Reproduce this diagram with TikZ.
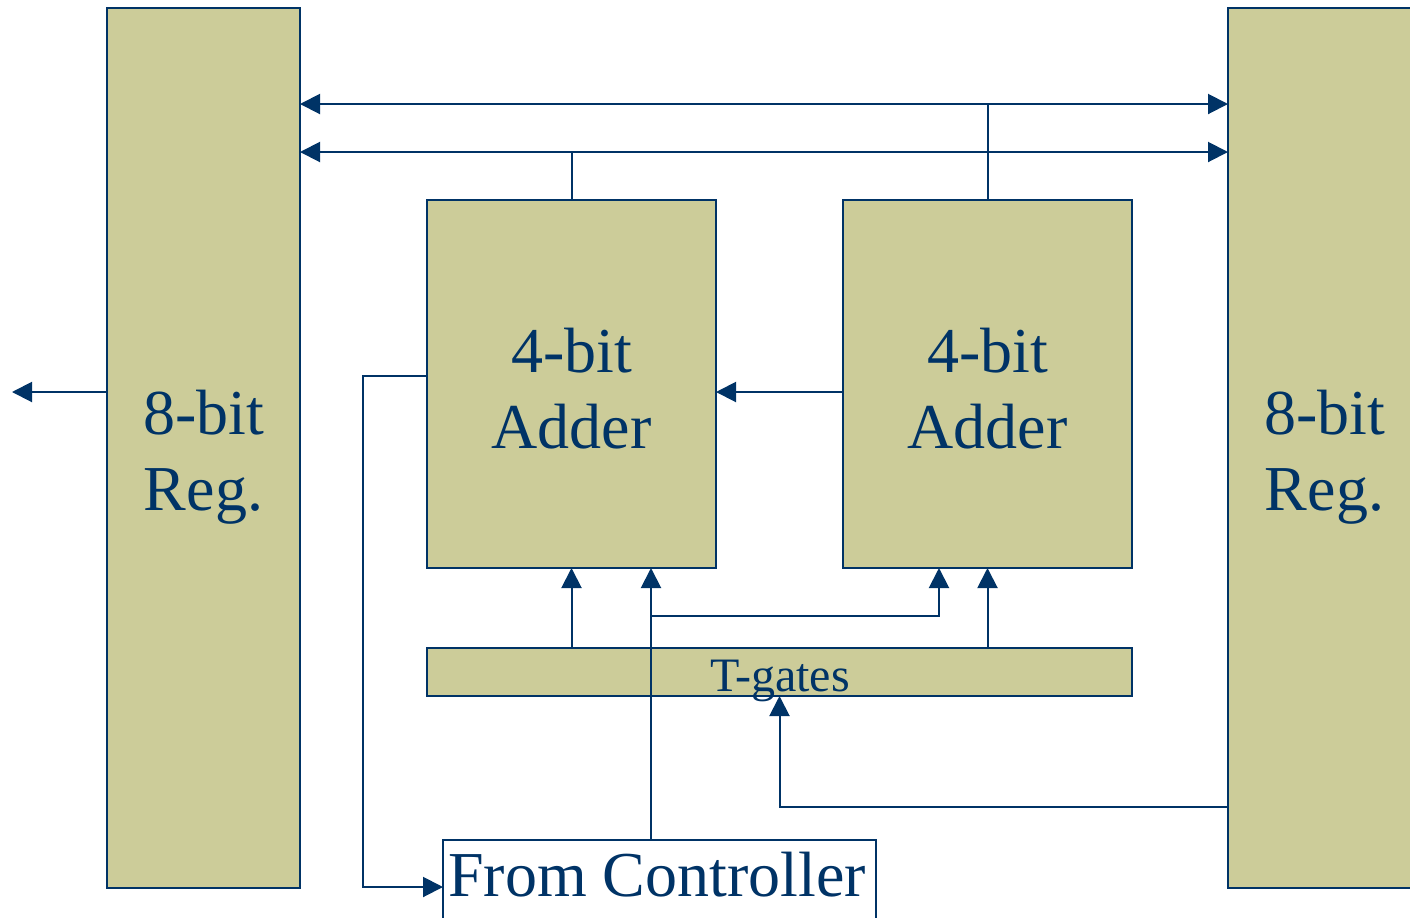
\documentclass[tikz,border=0pt]{standalone}
\usepackage{fontspec}
\setmainfont{Liberation Serif}
\usetikzlibrary{arrows.meta}
\definecolor{navy}{HTML}{003366}
\definecolor{olive}{HTML}{CCCC99}
\tikzset{
  block/.style={draw=navy, fill=olive, line width=1pt, inner sep=0pt, outer sep=0pt},
  caption/.style={text=navy, align=center, inner sep=0pt, font=\fontsize{32}{38}\selectfont},
  wire/.style={draw=navy, line width=1pt},
  arr/.style={wire, -{Triangle[length=10pt,width=10pt]}},
  dbl/.style={wire, {Triangle[length=10pt,width=10pt]}-{Triangle[length=10pt,width=10pt]}},
}
\begin{document}
\begin{tikzpicture}[x=0.5pt, y=-0.5pt]
\clip (0,0) rectangle (1410,917);
\useasboundingbox (0,0) rectangle (1410,917);

% registers
\node[block, minimum width=96.5pt, minimum height=440pt] (L) at (203.5,448) {};
\node[block, minimum width=96.5pt, minimum height=440pt] (R) at (1324.5,448) {};

% adders
\node[block, minimum width=144.5pt, minimum height=184pt] (A1) at (571.5,384) {};
\node[block, minimum width=144.5pt, minimum height=184pt] (A2) at (987.5,384) {};

% transmission gates
\node[block, minimum width=352.5pt, minimum height=24pt] (T) at (779.5,672) {};

% controller box
\node[block, fill=white, minimum width=216.5pt, minimum height=60pt] (FC) at (659.5,900) {};

% reference points
\coordinate (y1) at (0,104);
\coordinate (y2) at (0,152);
\coordinate (out) at (12,392);
\coordinate (fb) at (363,376);
\coordinate (fbb) at (0,887);
\coordinate (c1) at (651,0);
\coordinate (br) at (651,616);
\coordinate (c2) at (939,0);
\coordinate (rr) at (779,807);

% buses between registers
\draw[dbl] (L.east |- y1) -- (R.west |- y1);
\draw[dbl] (L.east |- y2) -- (R.west |- y2);
\draw[wire] (A2.north) -- (A2.north |- y1);
\draw[wire] (A1.north) -- (A1.north |- y2);

% output and carry
\draw[arr] (L.west |- out) -- (out);
\draw[arr] (A2.west |- out) -- (A1.east |- out);

% feedback to controller
\draw[arr] (A1.west |- fb) -- (fb) |- (FC.west |- fbb);

% control lines
\draw[arr] (FC.north -| c1) -- (A1.south -| c1);
\draw[arr] (br) -| (A2.south -| c2);
\draw[arr] (T.north -| A1.south) -- (A1.south);
\draw[arr] (T.north -| A2.south) -- (A2.south);
\draw[arr] (R.west |- rr) -| (T.south);

% labels (base anchor sits on the last line)
\node[caption, anchor=base] (Lt) at (203.5,510) {8-bit\\Reg.};
\node[caption, anchor=base] (Rt) at (1324.5,510) {8-bit\\Reg.};
\node[caption, anchor=base] (A1t) at (571.5,448) {4-bit\\Adder};
\node[caption, anchor=base] (A2t) at (987.5,448) {4-bit\\Adder};
\node[caption, anchor=base, font=\fontsize{24}{28}\selectfont] (tl) at (780,691) {T-gates};
\node[caption, anchor=base] (fl) at (657,896) {From Controller};
\end{tikzpicture}
\end{document}
